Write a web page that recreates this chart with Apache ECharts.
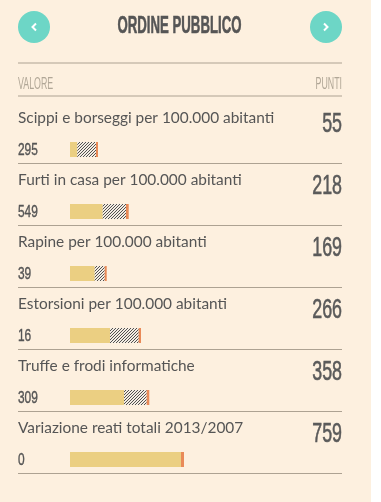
<!DOCTYPE html>
<html><head><meta charset="utf-8">
<script src="https://cdn.jsdelivr.net/npm/echarts@6/dist/echarts.min.js"></script>
<style>html,body{margin:0;padding:0;background:#fff}#c{width:381px;height:502px}</style>
</head><body><div id="c"></div>
<script>
// ---- data ----
const title = 'ORDINE PUBBLICO';
const headerLeft = 'VALORE';
const headerRight = 'PUNTI';
const categories = [
  'Scippi e borseggi per 100.000 abitanti',
  'Furti in casa per 100.000 abitanti',
  'Rapine per 100.000 abitanti',
  'Estorsioni per 100.000 abitanti',
  'Truffe e frodi informatiche',
  'Variazione reati totali 2013/2007'
];
const valori = ['295', '549', '39', '16', '309', '0'];
const punti = ['55', '218', '169', '266', '358', '759'];
const baseValues = [7.3, 32.7, 24.7, 40, 54, 111];
const hatchValues = [18.7, 23.3, 10, 28.7, 22.7, 0];
const markerValues = [2, 2.7, 2, 2.3, 2.6, 3];

// ---- styles ----
const BG = '#fdf0df';
const LINE = '#ada292';
const COND = "'Liberation Sans', Arial, sans-serif";
const LATO = "Lato, 'Noto Sans', sans-serif";

// hatch pattern
const pc = document.createElement('canvas');
pc.width = 3; pc.height = 3;
const ctx = pc.getContext('2d');
ctx.fillStyle = '#f4ede3'; ctx.fillRect(0, 0, 3, 3);
ctx.strokeStyle = '#3f3f3f'; ctx.lineWidth = 0.9;
ctx.beginPath();
ctx.moveTo(0, 3); ctx.lineTo(3, 0);
ctx.moveTo(-1, 1); ctx.lineTo(1, -1);
ctx.moveTo(2, 4); ctx.lineTo(4, 2);
ctx.stroke();

const chart = echarts.init(document.getElementById('c'), null, {renderer: 'canvas'});

const labelData = categories.map((c, i) => [0, i]);

chart.setOption({
  backgroundColor: BG,
  animation: false,
  grid: [
    {left: 70, right: 39, top: 118.5, height: 372},
    {left: 18, right: 39, top: 101, height: 372}
  ],
  xAxis: [
    {gridIndex: 0, type: 'value', min: 0, max: 272, show: false},
    {gridIndex: 1, type: 'value', min: 0, max: 1, show: false}
  ],
  yAxis: [
    {gridIndex: 0, type: 'category', inverse: true, data: categories, show: false},
    {gridIndex: 1, type: 'category', inverse: true, data: categories,
      axisLine: {show: false}, axisTick: {show: false}, axisLabel: {show: false},
      splitLine: {show: true, showMinLine: false, showMaxLine: true, lineStyle: {color: LINE, width: 1}}}
  ],
  graphic: [
    {type: 'rect', shape: {x: 371, y: 0, width: 10, height: 502}, style: {fill: '#ffffff'}, silent: true},
    {type: 'circle', shape: {cx: 34, cy: 27, r: 16}, style: {fill: '#6dd6c6'}},
    {type: 'circle', shape: {cx: 326, cy: 27, r: 16}, style: {fill: '#6dd6c6'}},
    {type: 'polyline', shape: {points: [[36, 23.5], [32.5, 27], [36, 30.5]]}, style: {stroke: '#fff', lineWidth: 2, fill: null}},
    {type: 'polyline', shape: {points: [[324, 23.5], [327.5, 27], [324, 30.5]]}, style: {stroke: '#fff', lineWidth: 2, fill: null}},
    {type: 'text', x: 179.5, y: 26, scaleX: 0.55, style: {text: title, fill: '#555555', font: 'bold 24px ' + COND, align: 'center', verticalAlign: 'middle', stroke: '#555555', lineWidth: 0.6}},
    {type: 'line', shape: {x1: 18, y1: 63, x2: 342, y2: 63}, style: {stroke: LINE, lineWidth: 1}},
    {type: 'line', shape: {x1: 18, y1: 96, x2: 342, y2: 96}, style: {stroke: LINE, lineWidth: 1}},
    {type: 'text', x: 18, y: 84, scaleX: 0.52, style: {text: headerLeft, fill: '#b1a797', font: '17px ' + COND, align: 'left', verticalAlign: 'middle'}},
    {type: 'text', x: 342, y: 84, scaleX: 0.52, style: {text: headerRight, fill: '#b1a797', font: '17px ' + COND, align: 'right', verticalAlign: 'middle'}}
  ],
  series: [
    {type: 'bar', xAxisIndex: 0, yAxisIndex: 0, stack: 's', barWidth: 15, data: baseValues, itemStyle: {color: '#ebcf82'}, silent: true},
    {type: 'bar', xAxisIndex: 0, yAxisIndex: 0, stack: 's', barWidth: 15, data: hatchValues, itemStyle: {color: {image: pc, repeat: 'repeat'}}, silent: true},
    {type: 'bar', xAxisIndex: 0, yAxisIndex: 0, stack: 's', barWidth: 15, data: markerValues, itemStyle: {color: '#e98a58'}, silent: true},
    {
      type: 'custom', xAxisIndex: 0, yAxisIndex: 0, data: labelData, clip: false, silent: true,
      encode: {x: 0, y: 1},
      renderItem: function (params, api) {
        const i = api.value(1);
        const cy = api.coord([0, i])[1];
        const cs = params.coordSys;
        const left = cs.x - 52;
        const right = cs.x + cs.width;
        return {
          type: 'group',
          children: [
            {type: 'text', x: left, y: cy - 31.5, style: {text: categories[i], fill: '#555555', font: '15.4px ' + LATO, align: 'left', verticalAlign: 'middle'}},
            {type: 'text', x: left, y: cy + 1, scaleX: 0.7, style: {text: valori[i], fill: '#555555', font: '17px ' + COND, align: 'left', verticalAlign: 'middle', stroke: '#555555', lineWidth: 0.4}},
            {type: 'text', x: right, y: cy - 24.5, scaleX: 0.66, style: {text: punti[i], fill: '#5a5a5a', font: '27px ' + COND, align: 'right', verticalAlign: 'middle', stroke: '#5a5a5a', lineWidth: 0.6}}
          ]
        };
      }
    }
  ]
});
</script></body></html>
